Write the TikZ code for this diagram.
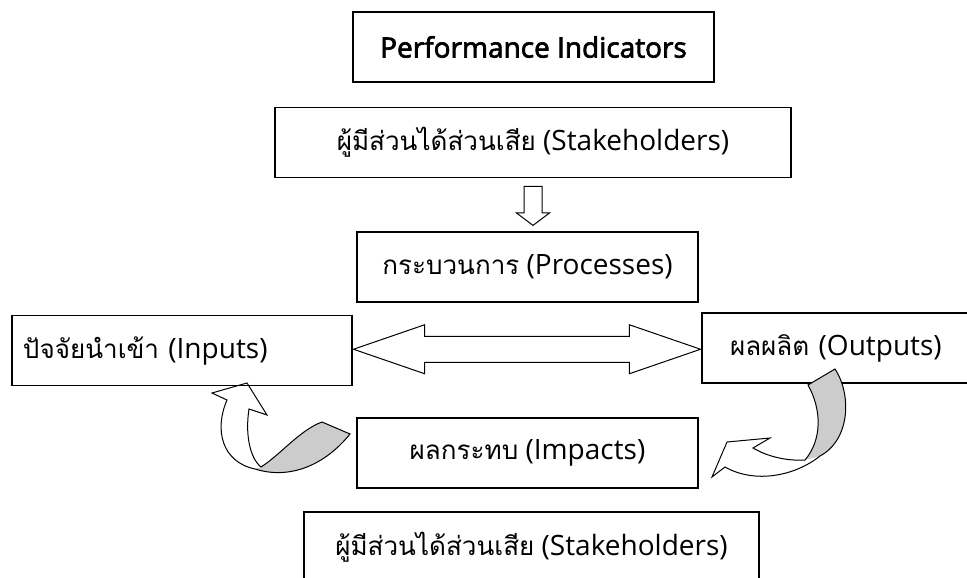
\documentclass[tikz,border=0pt]{standalone}
\usepackage{fontspec}
\setmainfont{Open Sans}
\newfontfamily\thaifont[Script=Thai, Scale=0.93]{Loma}
\newfontfamily\semibold[FakeBold=2.5]{Open Sans}
\usetikzlibrary{calc, shapes.arrows, positioning}

\newcommand{\thai}[1]{{\thaifont #1}}

\begin{document}
\begin{tikzpicture}[x=1pt, y=-1pt, >=latex, font=\fontsize{28}{32}\selectfont]
				\tikzstyle{box} = [draw=black, line width=1.2pt, rectangle, inner sep=0pt, minimum height=70pt]
				\tikzstyle{leftbox} = [box, align=left, inner xsep=11pt, text width=318pt]
				\tikzstyle{block} = [draw=black, line width=1pt, fill=white]
				\tikzstyle{ribbon} = [draw=black, line width=1pt]
				
				\useasboundingbox (0,0) rectangle (967,578);
				
				\node[box, minimum width=361pt] 	at (533.5, 47)		(perf)	{\semibold Performance Indicators};
				\node[box, minimum width=516pt] 	at (533, 142.5)		(stakeA)	{\thai{ผู้มีส่วนได้ส่วนเสีย} (Stakeholders)};
				\node[box, minimum width=341pt] 	at (527.5, 267)		(proc)	{\thai{กระบวนการ} (Processes)};
				\node[leftbox] 						at (182, 350.5)		(inp)	{\thai{ปัจจัยนำเข้า} (Inputs)};
				\node[leftbox, inner xsep=28pt, text width=260pt] at (860, 348)	(outp)	{\thai{ผลผลิต} (Outputs)};
				\node[box, minimum width=341pt] 	at (527.5, 453)		(imp)	{\thai{ผลกระทบ} (Impacts)};
				\node[box, minimum width=455pt] 	at (531.5, 547)		(stakeB)	{\thai{ผู้มีส่วนได้ส่วนเสีย} (Stakeholders)};
				
				% block arrows
				\node[block, single arrow, shape border rotate=270, inner sep=8.5pt, minimum height=39pt,
					single arrow head extend=7.5pt, single arrow tip angle=106] at (533, 202.5) (down) {};
				\node[block, double arrow, inner sep=12.5pt, minimum height=347pt,
					double arrow head extend=11.5pt, double arrow tip angle=38]
					at ($(inp.east)!0.5!(outp.west)$) (dbl) {};
				
				% curved arrow up to the inputs
				\fill[gray!40] (261,467) .. controls (280,455) and (300,430) .. (322,422) -- (350,434)
					.. controls (325,465) and (290,480) .. (255,469) -- cycle;
				\draw[ribbon] (350,434) .. controls (325,465) and (290,480) .. (255,469)
					.. controls (222,462) and (214,430) .. (227,400) -- (212,393) -- (247,383) -- (267,415) -- (249,409)
					.. controls (245,435) and (250,458) .. (261,467)
					.. controls (280,455) and (300,430) .. (322,422) -- cycle;
				
				% curved arrow down to the impacts
				\fill[gray!40] (808,385) -- (835,369) .. controls (852,395) and (850,440) .. (820,456)
					-- (805,460) .. controls (822,440) and (822,410) .. (808,385) -- cycle;
				\draw[ribbon] (808,385) -- (835,369) .. controls (852,395) and (850,440) .. (820,456)
					.. controls (795,476) and (755,484) .. (725,467) -- (712,477) -- (727,442) -- (770,438) -- (753,448)
					.. controls (770,458) and (790,461) .. (805,460)
					.. controls (822,440) and (822,410) .. (808,385) -- cycle;
			\end{tikzpicture}
\end{document}
